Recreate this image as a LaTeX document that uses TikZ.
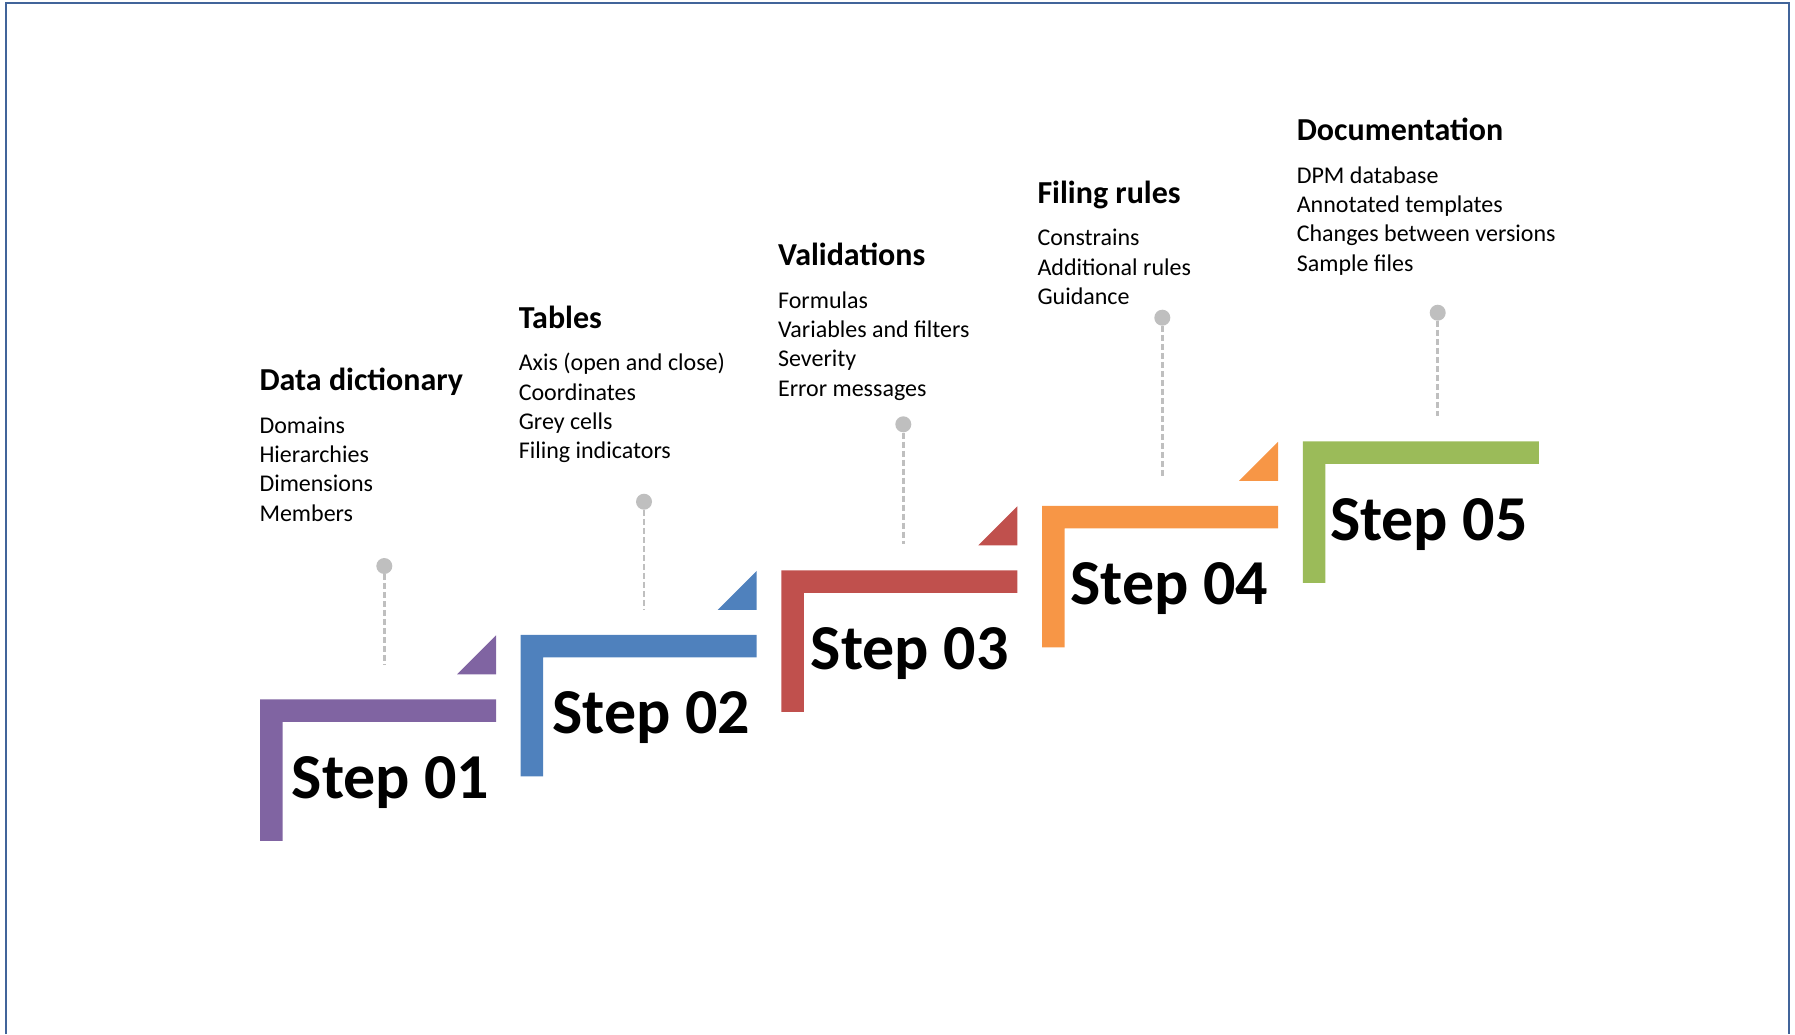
\documentclass[tikz,border=0pt]{standalone}
\usepackage{fontspec}
\setmainfont{Carlito}
\usetikzlibrary{positioning}

\definecolor{frameblue}{HTML}{41649A}
\definecolor{stepone}{HTML}{8064A2}
\definecolor{steptwo}{HTML}{4F81BD}
\definecolor{stepthree}{HTML}{C0504D}
\definecolor{stepfour}{HTML}{F79646}
\definecolor{stepfive}{HTML}{9BBB59}
\definecolor{leadgrey}{HTML}{BFBFBF}

\begin{document}
\begin{tikzpicture}[x=1pt, y=-1pt,
  title/.style={font=\fontsize{32}{38}\selectfont\bfseries, inner sep=0pt, anchor=base west},
  items/.style={font=\fontsize{24}{29.3}\selectfont, align=left, inner sep=0pt},
  steplabel/.style={font=\fontsize{64}{70}\selectfont\bfseries, inner sep=0pt, anchor=base west},
  dot/.style={circle, fill=leadgrey, inner sep=0pt, minimum size=16pt},
  leader/.style={leadgrey, line width=2.5pt, dash pattern=on 6pt off 3pt}]
  \useasboundingbox (0,0) rectangle (1795,1034);
  % frame
  \draw[frameblue, line width=2pt] (5.7,1034) -- (5.7,3) -- (1789.3,3) -- (1789.3,1034);
  % stairs
  \foreach \i/\c in {0/stepone,1/steptwo,2/stepthree,3/stepfour,4/stepfive} {
    \fill[\c] ({260+260.7*\i},{699.3-64.5*\i}) -- ++(236,0) -- ++(0,22.5)
      -- ++(-213.5,0) -- ++(0,119) -- ++(-22.5,0) -- cycle;
    \ifnum\i<4
      \fill[\c] ({496+260.7*\i},{635.3-64.5*\i}) -- ++(0,39) -- ++(-39,0) -- cycle;
    \fi
  }
  % step labels
  \node[steplabel] (s1) at (291.6,798.3) {Step 01};
  \node[steplabel] (s2) at (552.3,733.8) {Step 02};
  \node[steplabel] (s3) at (810.7,669.3) {Step 03};
  \node[steplabel] (s4) at (1070.2,604.8) {Step 04};
  \node[steplabel] (s5) at (1329.8,540.3) {Step 05};
  % leaders
  \node[dot] (d1) at (384.3,566) {};
  \node[dot] (d2) at (644,501.7) {};
  \node[dot] (d3) at (903.3,424.3) {};
  \node[dot] (d4) at (1162.3,317.7) {};
  \node[dot] (d5) at (1437.7,312.7) {};
  \coordinate (e1) at (384.3,665);
  \coordinate (e2) at (644,609);
  \coordinate (e3) at (903.3,544.3);
  \coordinate (e4) at (1162.3,478.3);
  \coordinate (e5) at (1437.7,416);
  \foreach \n in {1,...,5}
    \draw[leader] (d\n) -- (e\n);
  % texts
  \node[title] (h1) at (259.3,390.7) {Data dictionary};
  \node[items, below right=21.8pt and 0pt of h1.base west] (l1)
    {\strut Domains\\Hierarchies\\Dimensions\\Members};
  \node[title] (h2) at (518.6,328.2) {Tables};
  \node[items, below right=21.8pt and 0pt of h2.base west] (l2)
    {\strut Axis (open and close)\\Coordinates\\Grey cells\\Filing indicators};
  \node[title] (h3) at (777.9,265.7) {Validations};
  \node[items, below right=21.8pt and 0pt of h3.base west] (l3)
    {\strut Formulas\\Variables and filters\\Severity\\Error messages};
  \node[title] (h4) at (1037.3,203.2) {Filing rules};
  \node[items, below right=21.8pt and 0pt of h4.base west] (l4)
    {\strut Constrains\\Additional rules\\Guidance};
  \node[title] (h5) at (1296.6,140.7) {Documentation};
  \node[items, below right=21.8pt and 0pt of h5.base west] (l5)
    {\strut DPM database\\Annotated templates\\Changes between versions\\Sample files};
\end{tikzpicture}
\end{document}
